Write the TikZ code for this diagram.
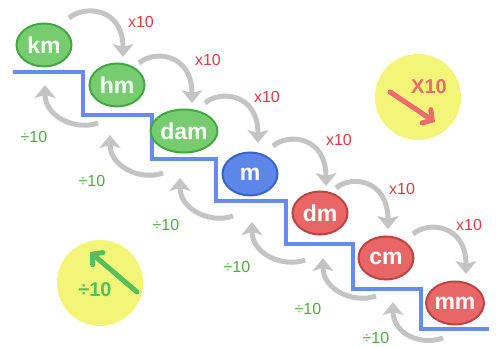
\documentclass[tikz,border=0pt]{standalone}
\usepackage{fontspec}
\setmainfont{Liberation Sans}
\usetikzlibrary{shapes.geometric,arrows.meta,calc}
\definecolor{gfill}{RGB}{118,204,110}
\definecolor{gline}{RGB}{66,168,66}
\definecolor{bfill}{RGB}{92,134,232}
\definecolor{bline}{RGB}{60,100,200}
\definecolor{rfill}{RGB}{232,102,102}
\definecolor{rline}{RGB}{190,68,68}
\definecolor{stair}{RGB}{100,140,240}
\definecolor{arrgray}{RGB}{196,196,196}
\definecolor{labred}{RGB}{222,58,70}
\definecolor{labgreen}{RGB}{78,172,64}
\definecolor{yel}{RGB}{242,245,120}
\definecolor{pinkred}{RGB}{236,108,110}
\definecolor{ygreen}{RGB}{86,190,90}
\tikzset{
  unit/.style={ellipse, draw, line width=2pt, minimum width=55pt, minimum height=43pt,
    inner sep=0pt, text=white, font=\fontsize{23}{23}\selectfont\bfseries},
  gunit/.style={unit, fill=gfill, draw=gline},
  bunit/.style={unit, fill=bfill, draw=bline},
  runit/.style={unit, fill=rfill, draw=rline},
  fwd/.style={draw=arrgray, line width=5pt, -{Stealth[length=13pt,width=21pt,inset=3pt]}},
  back/.style={draw=arrgray, line width=5pt, -{Stealth[length=13pt,width=21pt,inset=3pt]}},
  mullab/.style={text=labred, font=\fontsize{16}{16}\selectfont},
  divlab/.style={text=labgreen, font=\fontsize{16}{16}\selectfont},
  badge/.style={circle, fill=yel, minimum size=86pt, inner sep=0pt},
}
\begin{document}
\begin{tikzpicture}[x=1pt,y=-1pt]
\useasboundingbox (0,0) rectangle (496,347);
% staircase
\draw[stair, line width=4.5pt]
  (13,72) -- (83,72) -- (83,115) -- (152,115) -- (152,159) -- (216,159) -- (216,201)
  -- (286,201) -- (286,244) -- (353,244) -- (353,289) -- (421,289) -- (421,329) -- (489,329);
% units
\node[gunit] (km)  at (44,45)  {km};
\node[gunit] (hm)  at (117,85) {hm};
\node[gunit] (dam) at (184,131) {dam};
\node[bunit] (m)   at (250,174) {m};
\node[runit] (dm)  at (320,213) {dm};
\node[runit] (cm)  at (386,258) {cm};
\node[runit] (mm)  at (455,303) {mm};
% forward arrows (x10)
\draw[fwd] ($(km)+(25,-27)$)  .. controls +(15,-13) and +(0,-50) .. ($(hm)+(6,-28)$);
\draw[fwd] ($(hm)+(22,-22)$)  .. controls +(15,-13) and +(0,-50) .. ($(dam)+(8,-28)$);
\draw[fwd] ($(dam)+(21,-28)$) .. controls +(15,-13) and +(0,-50) .. ($(m)+(8,-31)$);
\draw[fwd] ($(m)+(23,-28)$)   .. controls +(15,-13) and +(0,-50) .. ($(dm)+(6,-27)$);
\draw[fwd] ($(dm)+(16,-25)$)  .. controls +(15,-13) and +(0,-50) .. ($(cm)+(2,-29)$);
\draw[fwd] ($(cm)+(27,-24)$)  .. controls +(15,-13) and +(0,-50) .. ($(mm)+(11,-29)$);
% backward arrows (/10)
\draw[back] ($(km)+(54,78)$)   .. controls +(-22,8) and +(0,32) .. ($(km)+(1,40)$);
\draw[back] ($(hm)+(46,88)$)   .. controls +(-22,8) and +(0,32) .. ($(hm)+(-7,50)$);
\draw[back] ($(dam)+(49,85)$)  .. controls +(-22,8) and +(0,32) .. ($(dam)+(-4,47)$);
\draw[back] ($(m)+(55,86)$)    .. controls +(-22,8) and +(0,32) .. ($(m)+(2,48)$);
\draw[back] ($(dm)+(56,83)$)   .. controls +(-22,8) and +(0,32) .. ($(dm)+(3,45)$);
\draw[back] ($(cm)+(57,80)$)   .. controls +(-22,8) and +(0,32) .. ($(cm)+(7,44)$);
% labels
\node[mullab] (x1) at (141,22)  {x10};
\node[mullab] (x2) at (208,60)  {x10};
\node[mullab] (x3) at (267,97)  {x10};
\node[mullab] (x4) at (339,140) {x10};
\node[mullab] (x5) at (402,189) {x10};
\node[mullab] (x6) at (469,225) {x10};
\node[divlab] (d1) at (34,137)  {÷10};
\node[divlab] (d2) at (92,181)  {÷10};
\node[divlab] (d3) at (166,225) {÷10};
\node[divlab] (d4) at (237,267) {÷10};
\node[divlab] (d5) at (308,309) {÷10};
\node[divlab] (d6) at (376,338) {÷10};
% badges
\node[badge] (bx) at (418,97) {};
\node[text=pinkred, font=\fontsize{20}{20}\selectfont\bfseries] (bxt) at (429,87) {X10};
\draw[pinkred, line width=5pt, line cap=round, -{Straight Barb[length=7pt,width=16pt,line cap=round]}]
  ($(bx)+(-28,-5)$) -- ($(bx)+(17,25)$);
\node[badge] (bd) at (100,283) {};
\node[text=ygreen, font=\fontsize{20}{20}\selectfont\bfseries] (bdt) at (95,290) {÷10};
\draw[ygreen, line width=5pt, line cap=round, -{Straight Barb[length=7pt,width=16pt,line cap=round]}]
  ($(bd)+(37,9)$) -- ($(bd)+(-10,-31)$);
\end{tikzpicture}
\end{document}
